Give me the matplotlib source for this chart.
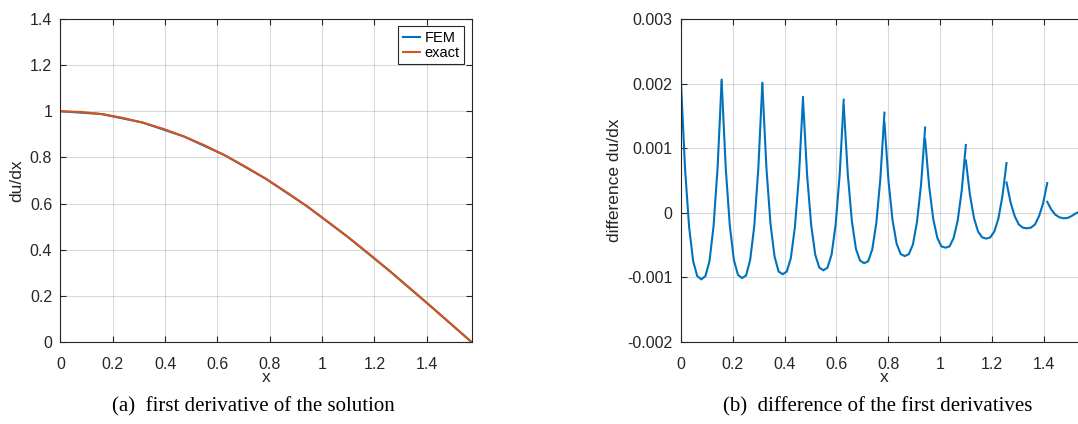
import numpy as np
import matplotlib
matplotlib.use("Agg")
import matplotlib.pyplot as plt

plt.rcParams['font.family'] = ['Liberation Sans', 'DejaVu Sans']
plt.rcParams['axes.unicode_minus'] = False

# element nodes (x)
nodes = [0.0, 0.1571, 0.3142, 0.4712, 0.6283, 0.7854, 0.9425, 1.0996, 1.2566, 1.4137, 1.5708]

# left panel: du/dx at the nodes (FEM) and on a finer grid (exact)
du_fem = [1.0, 0.988, 0.951, 0.891, 0.809, 0.707, 0.588, 0.454, 0.309, 0.156, 0.0]
x_exact = np.linspace(0, np.pi / 2, 21)
du_exact = [1.0, 0.997, 0.988, 0.972, 0.951, 0.924, 0.891, 0.853, 0.809, 0.760, 0.707,
            0.649, 0.588, 0.522, 0.454, 0.383, 0.309, 0.233, 0.156, 0.078, 0.0]

# right panel: difference in each element, 11 samples per element
diff_el = [
    [0.00203, 0.00068, -0.00022, -0.00075, -0.00098, -0.00103, -0.00098, -0.00075, -0.00021, 0.00070, 0.00206],
    [0.00203, 0.00069, -0.00020, -0.00073, -0.00096, -0.00101, -0.00097, -0.00073, -0.00021, 0.00068, 0.00201],
    [0.00198, 0.00069, -0.00017, -0.00068, -0.00091, -0.00095, -0.00091, -0.00070, -0.00022, 0.00058, 0.00179],
    [0.00174, 0.00058, -0.00019, -0.00065, -0.00085, -0.00089, -0.00085, -0.00065, -0.00019, 0.00059, 0.00175],
    [0.00166, 0.00059, -0.00013, -0.00056, -0.00074, -0.00078, -0.00075, -0.00057, -0.00016, 0.00053, 0.00155],
    [0.00140, 0.00049, -0.00012, -0.00048, -0.00064, -0.00067, -0.00064, -0.00049, -0.00014, 0.00044, 0.00132],
    [0.00114, 0.00040, -0.00010, -0.00039, -0.00052, -0.00054, -0.00052, -0.00039, -0.00012, 0.00035, 0.00105],
    [0.00081, 0.00028, -0.00008, -0.00029, -0.00038, -0.00040, -0.00038, -0.00029, -0.00009, 0.00026, 0.00077],
    [0.00047, 0.00016, -0.00005, -0.00018, -0.00023, -0.00024, -0.00023, -0.00018, -0.00005, 0.00015, 0.00046],
    [0.00017, 0.00005, -0.00003, -0.00007, -0.000085, -0.00008, -0.00005, -0.00001, 0.00002, 0.00005, 0.00008],
]

xt_left = [0, 0.2, 0.4, 0.6, 0.8, 1, 1.2, 1.4]
yt_left = [0, 0.2, 0.4, 0.6, 0.8, 1, 1.2, 1.4]
yt_right = [-0.002, -0.001, 0, 0.001, 0.002, 0.003]
yt_right_lbl = ['-0.002', '-0.001', '0', '0.001', '0.002', '0.003']

blue = '#0072BD'
orange = '#D95319'
tick_col = '#262626'


def style(ax):
    ax.grid(True, color='#000000', alpha=0.15, linewidth=0.8)
    ax.set_axisbelow(True)
    ax.tick_params(direction='in', top=True, right=True, length=4, width=0.8,
                   labelsize=11.5, colors=tick_col)
    ax.tick_params(axis='x', pad=10.5)
    ax.tick_params(axis='y', pad=6)
    for s in ax.spines.values():
        s.set_color(tick_col)
        s.set_linewidth(0.8)
    # x label baseline at ~382 px (axes bottom at 342 px, height 323 px)
    ax.xaxis.label.set_va('baseline')
    ax.xaxis.set_label_coords(0.5, -40 / 323)


def fmt(v):
    return '%g' % v


fig = plt.figure(figsize=(10.78, 4.24), dpi=100)

# (a)
ax1 = fig.add_axes([0.0561, 0.1934, 0.3813, 0.7618])
ax1.plot(nodes, du_fem, color=blue, lw=1.5, label='FEM')
ax1.plot(x_exact, du_exact, color=orange, lw=1.5, label='exact')
ax1.set_xlim(0, np.pi / 2)
ax1.set_ylim(0, 1.4)
ax1.set_xticks(xt_left)
ax1.set_xticklabels([fmt(v) for v in xt_left])
ax1.set_yticks(yt_left)
ax1.set_yticklabels([fmt(v) for v in yt_left])
ax1.set_xlabel('x', fontsize=12.5, color=tick_col)
ax1.set_ylabel('du/dx', fontsize=12.5, labelpad=4, color=tick_col)
style(ax1)
leg = ax1.legend(loc='upper right', fontsize=10.5, handlelength=1.2, handletextpad=0.3,
                 borderpad=0.3, labelspacing=0.1, fancybox=False, framealpha=1,
                 borderaxespad=0.5)
leg.get_frame().set_edgecolor(tick_col)
leg.get_frame().set_linewidth(0.8)

# (b)
ax2 = fig.add_axes([0.6317, 0.1934, 0.3775, 0.7618])
for k in range(len(diff_el)):
    xs = np.linspace(nodes[k], nodes[k + 1], len(diff_el[k]))
    ax2.plot(xs, diff_el[k], color=blue, lw=1.5, solid_joinstyle='miter')
ax2.set_xlim(0, np.pi / 2)
ax2.set_ylim(-0.002, 0.003)
ax2.set_xticks(xt_left)
ax2.set_xticklabels([fmt(v) for v in xt_left])
ax2.set_yticks(yt_right)
ax2.set_yticklabels(yt_right_lbl)
ax2.set_xlabel('x', fontsize=12.5, color=tick_col)
ax2.set_ylabel('difference du/dx', fontsize=12.5, labelpad=4, color=tick_col)
style(ax2)

# captions
fig.text(253 / 1078, 1 - 411 / 424, '(a)  first derivative of the solution',
         family='Liberation Serif', fontsize=15, ha='center', va='baseline')
fig.text(878 / 1078, 1 - 411 / 424, '(b)  difference of the first derivatives',
         family='Liberation Serif', fontsize=15, ha='center', va='baseline')

fig.savefig('out.png', dpi=100)
